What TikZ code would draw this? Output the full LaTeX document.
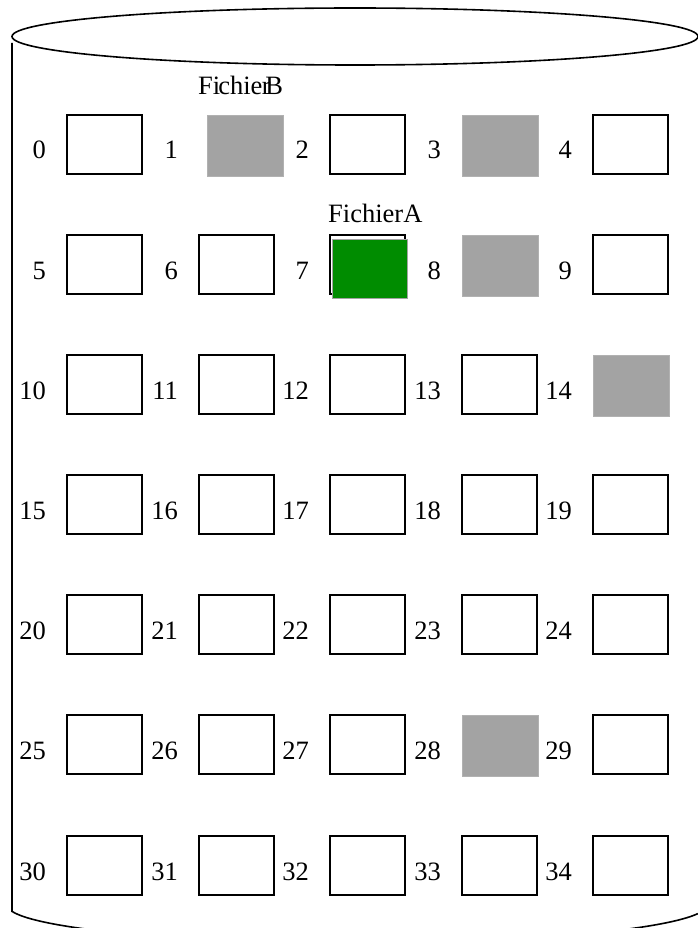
\documentclass[tikz,border=0pt]{standalone}
\usepackage{fontspec}
\setmainfont{Liberation Serif}
\definecolor{cellgray}{RGB}{163,163,163}
\definecolor{cellgreen}{RGB}{0,140,0}
\begin{document}
\begin{tikzpicture}[x=1pt,y=-1pt,
  cell/.style={draw, line width=1.4pt, minimum width=75pt, minimum height=59pt,
    inner sep=0pt, outer sep=0pt, anchor=north west},
  used/.style={draw=cellgray!85!white, line width=0.6pt, fill=cellgray,
    minimum height=61pt, minimum width=76pt},
  kind1/.style={used, xshift=8pt},
  kind3/.style={used},
  kind8/.style={used},
  kind14/.style={used},
  kind28/.style={used},
  greencell/.style={draw=cellgray, line width=0.6pt, fill=cellgreen,
    minimum width=75pt, minimum height=59pt, inner sep=0pt, outer sep=0pt, anchor=north west},
  num/.style={font=\fontsize{26.5}{26.5}\selectfont, anchor=base east, inner sep=0pt},
  lbl/.style={font=\fontsize{26.5}{26.5}\selectfont, anchor=base west, inner sep=0pt},
  outline/.style={line width=1.6pt}]
\useasboundingbox (0,0) rectangle (698,928);
\clip (0,0) rectangle (698,928);
% cylinder
\draw[outline] (355,36.5) ellipse [x radius=343, y radius=28.5];
\draw[outline] (12,43) -- (12,911.4) arc[start angle=170.3, end angle=13.1, x radius=350, y radius=38];
% cells
\foreach \r in {0,...,6}{
  \foreach \c/\xx in {0/67,1/199,2/330,3/462,4/593}{
    \pgfmathtruncatemacro\k{5*\r+\c}
    \pgfmathtruncatemacro\yy{115+120.17*\r}
    \node[cell, kind\k/.try] (b\k) at (\xx,\yy) {};
    \node[num] (n\k) at (\xx-21,\yy+44) {\k};
  }
}
\node[greencell] (g7) at (332,239) {};
% labels
\node[lbl] (fb) at (198,95) {Fi\kern-2pt chie\kern-0.5pt r\kern-5.5pt B};
\node[lbl] (fa) at (328,222) {FichierA};
\end{tikzpicture}
\end{document}
